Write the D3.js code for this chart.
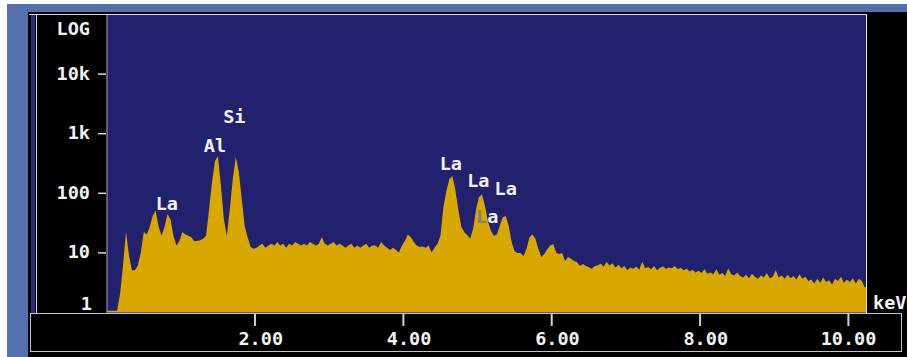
<!DOCTYPE html>
<html><head><meta charset="utf-8">
<script src="https://cdn.jsdelivr.net/npm/d3@7"></script>
<style>html,body{margin:0;padding:0;background:#fff;overflow:hidden}</style>
</head><body><svg id="c" width="907" height="357"></svg>
<script>
// ---- data ----
const binWidth = 0.04; // keV per channel
const counts = [
 1.05,1.05,1.05,1.05,2,6,22,9,5,5,
 6,10,22,20,27,41,50,27,19,27,
 44,36,19,13,15.5,22,20,19,18,15.5,
 15.5,16,17,19,53,150,340,414,130,36,
 19,53,170,400,230,80,28,18,12.3,11.5,
 12,13,14,12,13,14,13,15,13,14,
 12,14,13,15,14,13,14,13,15,14,
 13,14,18,14,13,14,15,13,14,13,
 12,13,14,12,13,12,13,14,12,13,
 13,12,15,13,12,11,12,11,10,13,
 15.5,20,18,15,13,12.3,12.5,12,13,10,
 12,14,19,58,107,170,191,115,53,27,
 22,19.6,17,25,53,85,95,60,33,23,
 19,20,28,39,41,28,15,10.5,9.8,9.8,
 8.7,11.4,18,20,17,11.4,8.4,9.4,11.4,13,
 13.8,10,9.4,9.8,7.2,8.4,7.8,7.2,6.9,5.9,
 6.4,5.9,5.7,5.3,5.9,6,6.5,5.8,6.9,6.0,
 6.6,5.5,6.2,5.4,5.9,5.0,5.6,5.3,5.8,5.1,
 7.0,5.4,5.7,5.2,5.9,5.0,5.5,5.8,5.3,5.6,
 5.4,5.9,5.2,5.5,5.0,5.3,4.8,5.1,4.6,4.9,
 4.5,5.2,4.4,4.6,4.3,5.2,4.2,4.5,4.0,5.4,
 4.3,4.1,4.6,4.0,3.8,4.2,3.7,4.4,3.9,3.6,
 4.1,3.8,4.5,3.7,3.9,5.0,3.8,4.1,3.6,4.2,
 3.7,4.0,3.5,4.3,3.6,3.9,3.3,3.5,3.0,3.6,
 3.1,3.8,3.2,3.4,2.9,3.6,3.3,3.9,3.1,3.5,
 3.2,3.7,3.0,3.6,3.3,2.6
];
const xTicks = [2, 4, 6, 8, 10];
const xTickLabels = ["2.00", "4.00", "6.00", "8.00", "10.00"];
const yTicks = [10000, 1000, 100, 10];
const yTickLabels = ["10k", "1k", "100", "10"];
const peakLabels = ["La", "Al", "Si", "La", "La", "La", "La"];
const peakEnergies = [0.81, 1.46, 1.72, 4.64, 5.01, 5.38, 5.13];
const peakLevels = [51, 484, 1483, 241, 125, 92, 31];

// ---- drawing ----
const svg = d3.select("#c");
const FONT = "'DejaVu Sans Mono', monospace";
const WHITE = "#f2f2f2";
const x = d3.scaleLinear().domain([0, counts.length * binWidth]).range([106.7, 866.2]);
const y = d3.scaleLog().domain([1, 1e5]).range([312, 14]);

// frame
svg.append("rect").attr("x", 0).attr("y", 0).attr("width", 907).attr("height", 357).attr("fill", "#fff");
svg.append("rect").attr("x", 7).attr("y", 4).attr("width", 900).attr("height", 353).attr("fill", "#5571ab");
svg.append("rect").attr("x", 28).attr("y", 12).attr("width", 879).attr("height", 345).attr("fill", "#000");
svg.append("rect").attr("x", 31).attr("y", 15).attr("width", 4).attr("height", 298).attr("fill", "#2a2a85");
svg.append("line").attr("x1", 36.5).attr("x2", 36.5).attr("y1", 15).attr("y2", 313).attr("stroke", "#d8d8d8");
svg.append("line").attr("x1", 29).attr("x2", 867).attr("y1", 14.5).attr("y2", 14.5).attr("stroke", "#d8d8d8");

// plot area
svg.append("rect").attr("x", 107).attr("y", 15).attr("width", 759).attr("height", 298).attr("fill", "#21216e");
svg.append("line").attr("x1", 107).attr("x2", 107).attr("y1", 15).attr("y2", 313).attr("stroke", "#a8a8a8");
svg.append("line").attr("x1", 866.5).attr("x2", 866.5).attr("y1", 14).attr("y2", 313).attr("stroke", "#e8e8e8");

// spectrum (points at channel centres)
const pts = counts.map((c, i) => ({e: (i + 0.5) * binWidth, c}));
pts.unshift({e: 0, c: counts[0]});
pts.push({e: counts.length * binWidth, c: counts[counts.length - 1]});
const area = d3.area().curve(d3.curveLinear)
  .x(d => x(d.e)).y0(y(1)).y1(d => y(d.c));
svg.append("path").datum(pts).attr("d", area).attr("fill", "#d9a800");
svg.append("line").attr("x1", 107).attr("x2", 866).attr("y1", 312.5).attr("y2", 312.5).attr("stroke", "#5a5aa8");

// x axis box
svg.append("rect").attr("x", 30.5).attr("y", 313.5).attr("width", 871).attr("height", 38)
  .attr("fill", "none").attr("stroke", "#c4c4c4");
svg.selectAll(".xt").data(xTicks).join("line")
  .attr("x1", d => x(d)).attr("x2", d => x(d)).attr("y1", 314).attr("y2", 326)
  .attr("stroke", "#d0d0d0").attr("stroke-width", 2);
svg.selectAll(".xl").data(xTicks).join("text")
  .attr("x", d => x(d) + 28).attr("y", 345).attr("text-anchor", "end")
  .attr("font-family", FONT).attr("font-size", 18.5).attr("font-weight", "bold").attr("fill", WHITE)
  .text((d, i) => xTickLabels[i]);
svg.append("text").attr("x", 873).attr("y", 309).attr("font-family", FONT).attr("font-size", 18.5)
  .attr("font-weight", "bold").attr("fill", WHITE).text("keV");

// y axis
svg.selectAll(".yt").data(yTicks).join("line")
  .attr("x1", 98).attr("x2", 106).attr("y1", d => y(d) + 0.5).attr("y2", d => y(d) + 0.5)
  .attr("stroke", "#d8d8d8").attr("stroke-width", 1.5);
svg.selectAll(".yl").data(yTicks).join("text")
  .attr("x", 90).attr("y", d => y(d) + 6).attr("text-anchor", "end")
  .attr("font-family", FONT).attr("font-size", 18.5).attr("font-weight", "bold").attr("fill", WHITE)
  .text((d, i) => yTickLabels[i]);
svg.append("text").attr("x", 90).attr("y", 35).attr("text-anchor", "end").attr("font-family", FONT)
  .attr("font-size", 18.5).attr("font-weight", "bold").attr("fill", WHITE).text("LOG");
svg.append("text").attr("x", 92).attr("y", 310).attr("text-anchor", "end").attr("font-family", FONT)
  .attr("font-size", 18.5).attr("font-weight", "bold").attr("fill", WHITE).text("1");

// peak labels
peakLabels.forEach((t, i) => {
  const tx = svg.append("text").attr("x", x(peakEnergies[i])).attr("y", y(peakLevels[i]))
    .attr("text-anchor", "middle").attr("font-family", FONT).attr("font-size", 18.5)
    .attr("font-weight", "bold").attr("fill", WHITE);
  if (i === 6) {
    tx.append("tspan").attr("fill", "#808090").text(t[0]);
    tx.append("tspan").text(t.slice(1));
  } else tx.text(t);
});
</script></body></html>
